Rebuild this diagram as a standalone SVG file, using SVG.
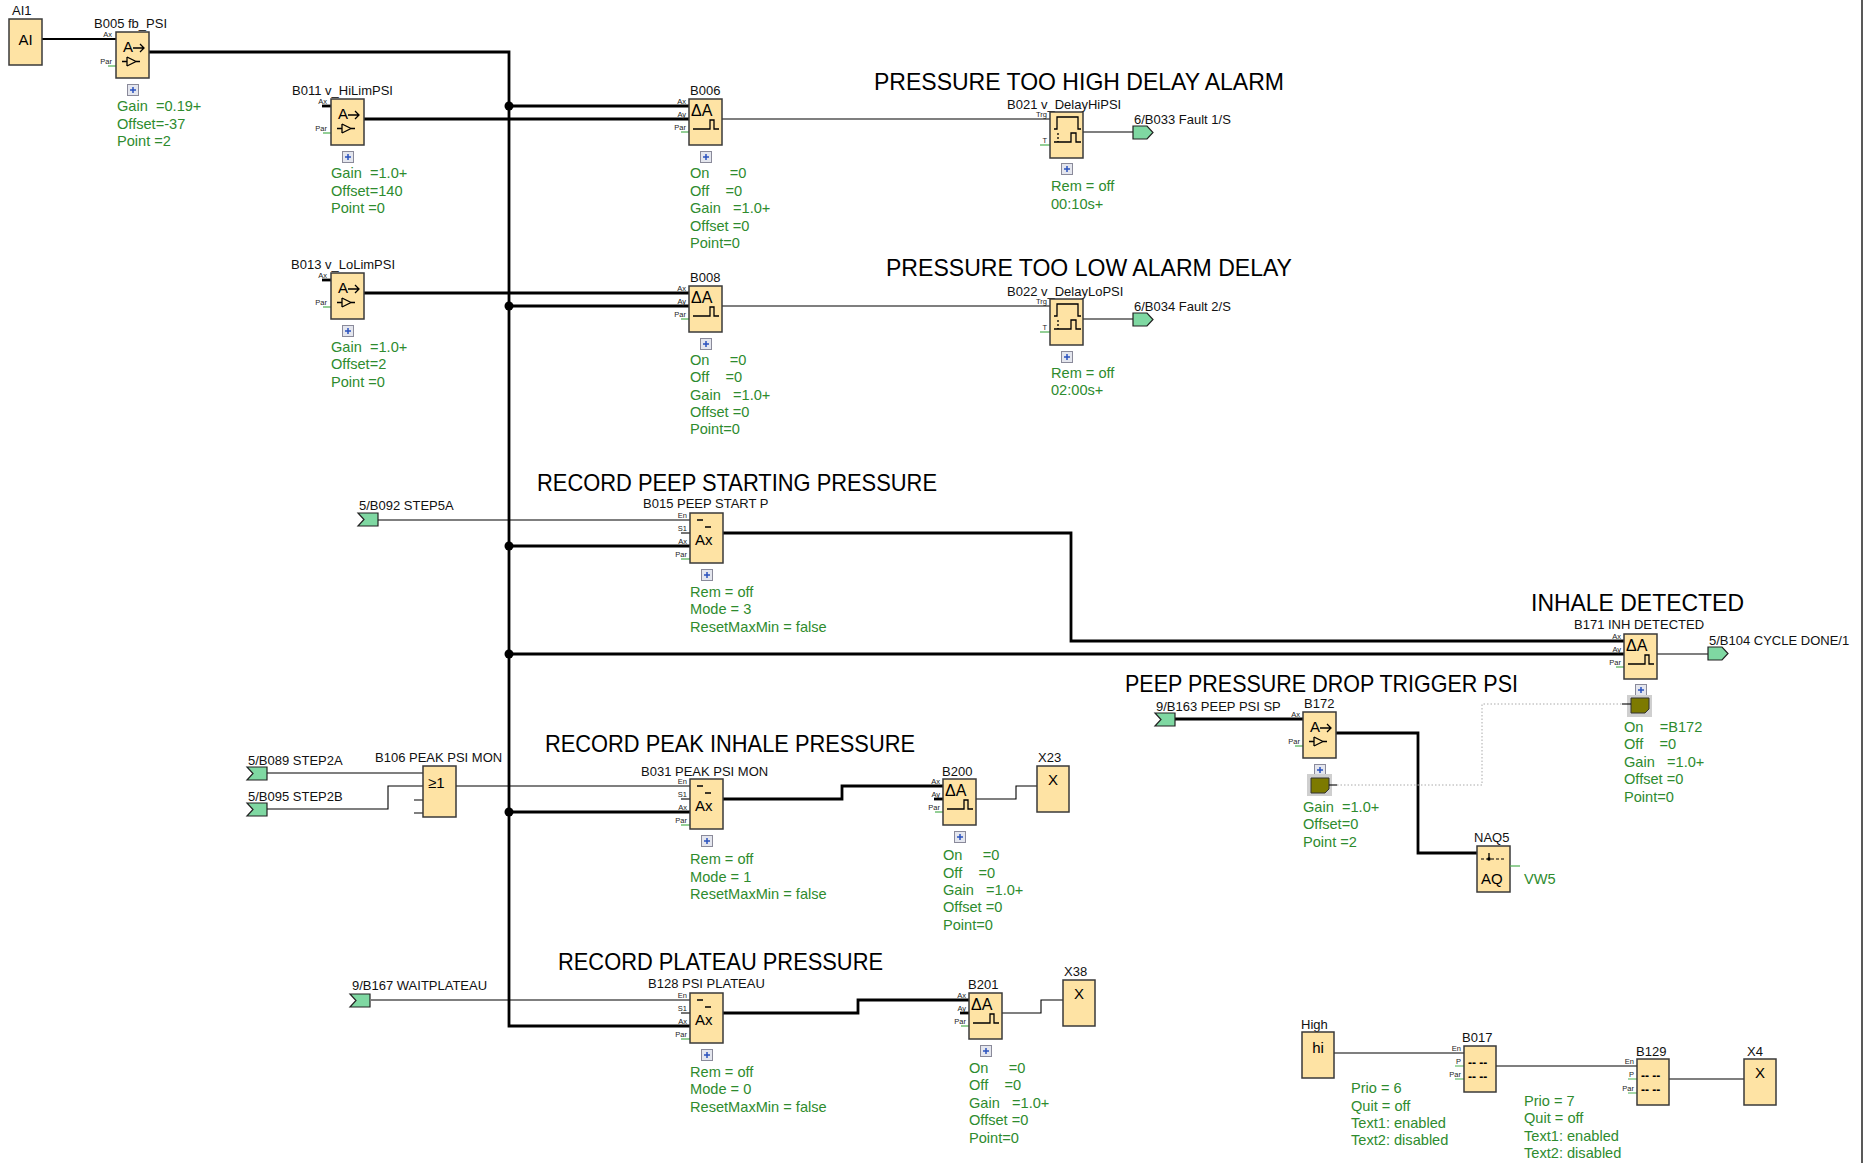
<svg xmlns="http://www.w3.org/2000/svg" xmlns:xlink="http://www.w3.org/1999/xlink" width="1865" height="1163" viewBox="0 0 1865 1163">
<style>
text{font-family:"Liberation Sans",Arial,sans-serif}
.blk{fill:#fee3a4;stroke:#3a3a3a;stroke-width:1.5}
.lbl{font-size:13px;fill:#111}
.par{font-size:14.6px;fill:#2e8b2e}
.pin{font-size:7.5px;fill:#222;text-anchor:end}
.title{font-size:24px;fill:#000}
.ico{font-size:15px;fill:#000}
.tri{font-size:16px;fill:#000}
.thick{stroke:#000;stroke-width:2.8;fill:none}
.mid{stroke:#000;stroke-width:2;fill:none}
.thin{stroke:#000;stroke-width:1.1;fill:none}
.gst{stroke:#4caf50;stroke-width:1.2;fill:none}
.conn{fill:#7fd8a2;stroke:#222;stroke-width:1.2}
.dot{fill:#000}
.dotted{stroke:#aaa;stroke-width:1;stroke-dasharray:1.5 2;fill:none}
.olive{fill:#7d7a00;stroke:#333;stroke-width:1}
.obg{fill:#cfcfcf}
</style>
<defs>
<g id="plus"><rect x="0.5" y="0.5" width="11" height="11" fill="#e4e6ee" stroke="#8a8a9a"/><path d="M6,3 V9 M3,6 H9" stroke="#2a52be" stroke-width="1.5"/></g>
<path id="ampI" d="M17,16 H28 M24,12 L28,16 L24,20 M6,29.5 H11 M11,25 V34 M11,25 L20,29.5 L11,34 M20,29.5 H24" stroke="#000" stroke-width="1.3" fill="none"/>
<path id="trigI" d="M4,30 H21 V21 H25 V30 H30" stroke="#000" stroke-width="1.3" fill="none"/>
<g id="delayI" stroke="#000" stroke-width="1.3" fill="none"><path d="M4,17 H7 V5 H28 V17 H31 M4,30 H21 V21 H26 V30 H31"/><path d="M8,21 V30" stroke-dasharray="2 2"/></g>
<path id="maxI" d="M7,7 H13 M15,14 H21" stroke="#000" stroke-width="1.3" fill="none"/>
<polygon id="inC" points="0,0 20,0 20,13 0,13 6,6.5"/>
<polygon id="outC" points="0,0 14,0 20,6.5 14,13 0,13"/>
<path id="oliveI" d="M0,0 H18 V11 L14,15 H0 Z"/>
</defs>
<rect width="1865" height="1163" fill="#fff"/>
<line x1="1862" y1="0" x2="1862" y2="1163" stroke="#222" stroke-width="1.5"/>

<g id="titles">
<text class="title" x="874" y="90" textLength="410" lengthAdjust="spacingAndGlyphs">PRESSURE TOO HIGH DELAY ALARM</text>
<text class="title" x="886" y="276" textLength="406" lengthAdjust="spacingAndGlyphs">PRESSURE TOO LOW ALARM DELAY</text>
<text class="title" x="537" y="491" textLength="400" lengthAdjust="spacingAndGlyphs">RECORD PEEP STARTING PRESSURE</text>
<text class="title" x="545" y="752" textLength="370" lengthAdjust="spacingAndGlyphs">RECORD PEAK INHALE PRESSURE</text>
<text class="title" x="1531" y="611" textLength="213" lengthAdjust="spacingAndGlyphs">INHALE DETECTED</text>
<text class="title" x="1125" y="692" textLength="393" lengthAdjust="spacingAndGlyphs">PEEP PRESSURE DROP TRIGGER PSI</text>
<text class="title" x="558" y="970" textLength="325" lengthAdjust="spacingAndGlyphs">RECORD PLATEAU PRESSURE</text>
</g>

<g id="connectors">
<path class="mid" d="M42,39 H116"/>
<path class="thick" d="M149,52 H509 V1026 H690"/>
<path class="thick" d="M509,106 H689"/>
<path class="thick" d="M364,119 H689"/>
<path class="thick" d="M364,293 H689"/>
<path class="thick" d="M509,306 H689"/>
<path class="thick" d="M509,546 H690"/>
<path class="thick" d="M723,533 H1071 V641 H1624"/>
<path class="thick" d="M509,654 H1624"/>
<path class="thick" d="M509,812 H690"/>
<path class="thick" d="M723,799 H842 V786 H943"/>
<path class="thick" d="M723,1013 H858 V1000 H969"/>
<path class="thick" d="M1175,719 H1303"/>
<path class="thick" d="M1336,733 H1418 V853 H1477"/>
<path class="thin" d="M722,119 H1050"/>
<path class="thin" d="M1083,132 H1133"/>
<path class="thin" d="M722,306 H1050"/>
<path class="thin" d="M1083,319 H1133"/>
<path class="thin" d="M378,520 H690"/>
<path class="thin" d="M267,773 H423"/>
<path class="thin" d="M267,809 H388 V786 H423"/>
<path class="thin" d="M456,786 H690"/>
<path class="thin" d="M976,799 H1016 V786 H1037"/>
<path class="thin" d="M1002,1013 H1041 V1000 H1063"/>
<path class="thin" d="M371,1000 H690"/>
<path class="thin" d="M1657,654 H1708"/>
<path class="thin" d="M1334,1053 H1464"/>
<path class="thin" d="M1496,1066 H1637"/>
<path class="thin" d="M1669,1079 H1744"/>
<path class="dotted" d="M1337,785 H1482 V704 H1622"/>
<circle class="dot" cx="509" cy="106" r="4.5"/>
<circle class="dot" cx="509" cy="306" r="4.5"/>
<circle class="dot" cx="509" cy="546" r="4.5"/>
<circle class="dot" cx="509" cy="654" r="4.5"/>
<circle class="dot" cx="509" cy="812" r="4.5"/>
</g>

<g id="AI1">
<text class="lbl" x="12" y="15">AI1</text>
<rect class="blk" x="9" y="19" width="33" height="46"/>
<text class="ico" x="25.5" y="45" text-anchor="middle" font-size="17">AI</text>
</g>

<g id="B005">
<text class="lbl" x="94" y="28">B005 fb_PSI</text>
<text class="pin" x="112" y="37">Ax</text><text class="pin" x="112" y="64">Par</text>
<path class="gst" d="M108,66 H116"/>
<rect class="blk" x="116" y="32" width="33" height="46"/>
<text class="ico" x="123" y="52">A</text><use href="#ampI" x="116" y="32"/>
<use href="#plus" x="127" y="84"/>
<text class="par" xml:space="preserve" x="117" y="111">Gain  =0.19+</text>
<text class="par" xml:space="preserve" x="117" y="129">Offset=-37</text>
<text class="par" xml:space="preserve" x="117" y="146">Point =2</text>
</g>

<g id="B011">
<text class="lbl" x="292" y="95">B011 v_HiLimPSI</text>
<text class="pin" x="327" y="104">Ax</text><text class="pin" x="327" y="131">Par</text>
<path class="thick" d="M322,106 H331"/><path class="gst" d="M323,133 H331"/>
<rect class="blk" x="331" y="99" width="33" height="46"/>
<text class="ico" x="338" y="119">A</text><use href="#ampI" x="331" y="99"/>
<use href="#plus" x="342" y="151"/>
<text class="par" xml:space="preserve" x="331" y="178">Gain  =1.0+</text>
<text class="par" xml:space="preserve" x="331" y="196">Offset=140</text>
<text class="par" xml:space="preserve" x="331" y="213">Point =0</text>
</g>

<g id="B013">
<text class="lbl" x="291" y="269">B013 v_LoLimPSI</text>
<text class="pin" x="327" y="278">Ax</text><text class="pin" x="327" y="305">Par</text>
<path class="thick" d="M322,280 H331"/><path class="gst" d="M323,307 H331"/>
<rect class="blk" x="331" y="273" width="33" height="46"/>
<text class="ico" x="338" y="293">A</text><use href="#ampI" x="331" y="273"/>
<use href="#plus" x="342" y="325"/>
<text class="par" xml:space="preserve" x="331" y="352">Gain  =1.0+</text>
<text class="par" xml:space="preserve" x="331" y="369">Offset=2</text>
<text class="par" xml:space="preserve" x="331" y="387">Point =0</text>
</g>

<g id="B006">
<text class="lbl" x="690" y="95">B006</text>
<text class="pin" x="686" y="104">Ax</text><text class="pin" x="686" y="117">Ay</text><text class="pin" x="686" y="130">Par</text>
<path class="gst" d="M681,132 H689"/>
<rect class="blk" x="689" y="99" width="33" height="46"/>
<text class="tri" x="691" y="116">ΔA</text><use href="#trigI" x="689" y="99"/>
<use href="#plus" x="700" y="151"/>
<text class="par" xml:space="preserve" x="690" y="178">On     =0</text>
<text class="par" xml:space="preserve" x="690" y="196">Off    =0</text>
<text class="par" xml:space="preserve" x="690" y="213">Gain   =1.0+</text>
<text class="par" xml:space="preserve" x="690" y="231">Offset =0</text>
<text class="par" xml:space="preserve" x="690" y="248">Point=0</text>
</g>

<g id="B008">
<text class="lbl" x="690" y="282">B008</text>
<text class="pin" x="686" y="291">Ax</text><text class="pin" x="686" y="304">Ay</text><text class="pin" x="686" y="317">Par</text>
<path class="gst" d="M681,319 H689"/>
<rect class="blk" x="689" y="286" width="33" height="46"/>
<text class="tri" x="691" y="303">ΔA</text><use href="#trigI" x="689" y="286"/>
<use href="#plus" x="700" y="338"/>
<text class="par" xml:space="preserve" x="690" y="365">On     =0</text>
<text class="par" xml:space="preserve" x="690" y="382">Off    =0</text>
<text class="par" xml:space="preserve" x="690" y="400">Gain   =1.0+</text>
<text class="par" xml:space="preserve" x="690" y="417">Offset =0</text>
<text class="par" xml:space="preserve" x="690" y="434">Point=0</text>
</g>

<g id="B021">
<text class="lbl" x="1007" y="109">B021 v_DelayHiPSI</text>
<text class="pin" x="1047" y="117">Trg</text><text class="pin" x="1047" y="143">T</text>
<path class="gst" d="M1040,145 H1050"/>
<rect class="blk" x="1050" y="112" width="33" height="46"/>
<use href="#delayI" x="1050" y="112"/>
<use href="#plus" x="1061" y="163"/>
<text class="par" xml:space="preserve" x="1051" y="191">Rem = off</text>
<text class="par" xml:space="preserve" x="1051" y="209">00:10s+</text>
</g>

<g id="B033">
<use href="#outC" class="conn" x="1133" y="126"/>
<text class="lbl" x="1134" y="124">6/B033 Fault 1/S</text>
</g>

<g id="B022">
<text class="lbl" x="1007" y="296">B022 v_DelayLoPSI</text>
<text class="pin" x="1047" y="304">Trg</text><text class="pin" x="1047" y="330">T</text>
<path class="gst" d="M1040,332 H1050"/>
<rect class="blk" x="1050" y="299" width="33" height="46"/>
<use href="#delayI" x="1050" y="299"/>
<use href="#plus" x="1061" y="351"/>
<text class="par" xml:space="preserve" x="1051" y="378">Rem = off</text>
<text class="par" xml:space="preserve" x="1051" y="395">02:00s+</text>
</g>

<g id="B034">
<use href="#outC" class="conn" x="1133" y="313"/>
<text class="lbl" x="1134" y="311">6/B034 Fault 2/S</text>
</g>

<g id="B092">
<use href="#inC" class="conn" x="358" y="513"/>
<text class="lbl" x="359" y="510">5/B092 STEP5A</text>
</g>

<g id="B015">
<text class="lbl" x="643" y="508">B015 PEEP START P</text>
<text class="pin" x="687" y="518">En</text><text class="pin" x="687" y="531">S1</text><text class="pin" x="687" y="544">Ax</text><text class="pin" x="687" y="557">Par</text>
<path class="thin" d="M681,533 H690"/><path class="gst" d="M681,559 H690"/>
<rect class="blk" x="690" y="513" width="33" height="50"/>
<use href="#maxI" x="690" y="513"/>
<text class="ico" x="695" y="545" font-size="16">Ax</text>
<use href="#plus" x="701" y="569"/>
<text class="par" xml:space="preserve" x="690" y="597">Rem = off</text>
<text class="par" xml:space="preserve" x="690" y="614">Mode = 3</text>
<text class="par" xml:space="preserve" x="690" y="632">ResetMaxMin = false</text>
</g>

<g id="B171">
<text class="lbl" x="1574" y="629">B171 INH DETECTED</text>
<text class="pin" x="1621" y="639">Ax</text><text class="pin" x="1621" y="652">Ay</text><text class="pin" x="1621" y="665">Par</text>
<path class="gst" d="M1616,667 H1624"/>
<rect class="blk" x="1624" y="634" width="33" height="45"/>
<text class="tri" x="1626" y="651">ΔA</text><use href="#trigI" x="1624" y="634"/>
<use href="#plus" x="1635" y="684"/>
<rect class="obg" x="1627" y="695" width="25" height="22"/>
<use href="#oliveI" class="olive" x="1631" y="698"/>
<path class="thin" d="M1622,704 H1631"/>
<text class="par" xml:space="preserve" x="1624" y="732">On    =B172</text>
<text class="par" xml:space="preserve" x="1624" y="749">Off    =0</text>
<text class="par" xml:space="preserve" x="1624" y="767">Gain   =1.0+</text>
<text class="par" xml:space="preserve" x="1624" y="784">Offset =0</text>
<text class="par" xml:space="preserve" x="1624" y="802">Point=0</text>
</g>

<g id="B104">
<use href="#outC" class="conn" x="1708" y="647"/>
<text class="lbl" x="1709" y="645">5/B104 CYCLE DONE/1</text>
</g>

<g id="B163">
<use href="#inC" class="conn" x="1155" y="713"/>
<text class="lbl" x="1156" y="711">9/B163 PEEP PSI SP</text>
</g>

<g id="B172">
<text class="lbl" x="1304" y="708">B172</text>
<text class="pin" x="1300" y="717">Ax</text><text class="pin" x="1300" y="744">Par</text>
<path class="gst" d="M1295,746 H1303"/>
<rect class="blk" x="1303" y="712" width="33" height="46"/>
<text class="ico" x="1310" y="732">A</text><use href="#ampI" x="1303" y="712"/>
<use href="#plus" x="1314" y="764"/>
<rect class="obg" x="1307" y="774" width="25" height="22"/>
<use href="#oliveI" class="olive" x="1311" y="778"/>
<path class="thin" d="M1329,785 H1337"/>
<text class="par" xml:space="preserve" x="1303" y="812">Gain  =1.0+</text>
<text class="par" xml:space="preserve" x="1303" y="829">Offset=0</text>
<text class="par" xml:space="preserve" x="1303" y="847">Point =2</text>
</g>

<g id="NAQ5">
<text class="lbl" x="1474" y="842">NAQ5</text>
<rect class="blk" x="1477" y="846" width="33" height="46"/>
<path d="M1481,859 H1506" stroke="#000" stroke-width="1.2" stroke-dasharray="3 2"/>
<path d="M1489,853 V859" stroke="#000" stroke-width="1.3"/><circle cx="1489" cy="859" r="1.8"/>
<text class="ico" x="1481" y="884" font-size="16">AQ</text>
<path class="gst" d="M1510,866 H1520"/>
<text class="par" x="1524" y="884">VW5</text>
</g>

<g id="B089">
<use href="#inC" class="conn" x="247" y="767"/>
<text class="lbl" x="248" y="765">5/B089 STEP2A</text>
</g>

<g id="B095">
<use href="#inC" class="conn" x="247" y="803"/>
<text class="lbl" x="248" y="801">5/B095 STEP2B</text>
</g>

<g id="B106">
<text class="lbl" x="375" y="762">B106 PEAK PSI MON</text>
<path class="thin" d="M414,800 H423 M414,813 H423"/>
<rect class="blk" x="423" y="766" width="33" height="51"/>
<text class="ico" x="428" y="788" font-size="17">≥1</text>
</g>

<g id="B031">
<text class="lbl" x="641" y="776">B031 PEAK PSI MON</text>
<text class="pin" x="687" y="784">En</text><text class="pin" x="687" y="797">S1</text><text class="pin" x="687" y="810">Ax</text><text class="pin" x="687" y="823">Par</text>
<path class="thin" d="M681,799 H690"/><path class="gst" d="M681,825 H690"/>
<rect class="blk" x="690" y="779" width="33" height="50"/>
<use href="#maxI" x="690" y="779"/>
<text class="ico" x="695" y="811" font-size="16">Ax</text>
<use href="#plus" x="701" y="835"/>
<text class="par" xml:space="preserve" x="690" y="864">Rem = off</text>
<text class="par" xml:space="preserve" x="690" y="882">Mode = 1</text>
<text class="par" xml:space="preserve" x="690" y="899">ResetMaxMin = false</text>
</g>

<g id="B200">
<text class="lbl" x="942" y="776">B200</text>
<text class="pin" x="940" y="784">Ax</text><text class="pin" x="940" y="797">Ay</text><text class="pin" x="940" y="810">Par</text>
<path class="thick" d="M934,799 H943"/><path class="gst" d="M935,812 H943"/>
<rect class="blk" x="943" y="779" width="33" height="46"/>
<text class="tri" x="945" y="796">ΔA</text><use href="#trigI" x="943" y="779"/>
<use href="#plus" x="954" y="831"/>
<text class="par" xml:space="preserve" x="943" y="860">On     =0</text>
<text class="par" xml:space="preserve" x="943" y="878">Off    =0</text>
<text class="par" xml:space="preserve" x="943" y="895">Gain   =1.0+</text>
<text class="par" xml:space="preserve" x="943" y="912">Offset =0</text>
<text class="par" xml:space="preserve" x="943" y="930">Point=0</text>
</g>

<g id="X23">
<text class="lbl" x="1038" y="762">X23</text>
<rect class="blk" x="1037" y="766" width="32" height="46"/>
<text class="ico" x="1053" y="785" text-anchor="middle" font-size="16">X</text>
</g>

<g id="B167">
<use href="#inC" class="conn" x="350" y="994"/>
<text class="lbl" x="352" y="990">9/B167 WAITPLATEAU</text>
</g>

<g id="B128">
<text class="lbl" x="648" y="988">B128 PSI PLATEAU</text>
<text class="pin" x="687" y="998">En</text><text class="pin" x="687" y="1011">S1</text><text class="pin" x="687" y="1024">Ax</text><text class="pin" x="687" y="1037">Par</text>
<path class="thin" d="M681,1013 H690"/><path class="gst" d="M681,1039 H690"/>
<rect class="blk" x="690" y="993" width="33" height="50"/>
<use href="#maxI" x="690" y="993"/>
<text class="ico" x="695" y="1025" font-size="16">Ax</text>
<use href="#plus" x="701" y="1049"/>
<text class="par" xml:space="preserve" x="690" y="1077">Rem = off</text>
<text class="par" xml:space="preserve" x="690" y="1094">Mode = 0</text>
<text class="par" xml:space="preserve" x="690" y="1112">ResetMaxMin = false</text>
</g>

<g id="B201">
<text class="lbl" x="968" y="989">B201</text>
<text class="pin" x="966" y="998">Ax</text><text class="pin" x="966" y="1011">Ay</text><text class="pin" x="966" y="1024">Par</text>
<path class="thick" d="M960,1013 H969"/><path class="gst" d="M961,1026 H969"/>
<rect class="blk" x="969" y="993" width="33" height="46"/>
<text class="tri" x="971" y="1010">ΔA</text><use href="#trigI" x="969" y="993"/>
<use href="#plus" x="980" y="1045"/>
<text class="par" xml:space="preserve" x="969" y="1073">On     =0</text>
<text class="par" xml:space="preserve" x="969" y="1090">Off    =0</text>
<text class="par" xml:space="preserve" x="969" y="1108">Gain   =1.0+</text>
<text class="par" xml:space="preserve" x="969" y="1125">Offset =0</text>
<text class="par" xml:space="preserve" x="969" y="1143">Point=0</text>
</g>

<g id="X38">
<text class="lbl" x="1064" y="976">X38</text>
<rect class="blk" x="1063" y="980" width="32" height="46"/>
<text class="ico" x="1079" y="999" text-anchor="middle" font-size="16">X</text>
</g>

<g id="High">
<text class="lbl" x="1301" y="1029">High</text>
<rect class="blk" x="1302" y="1032" width="32" height="46"/>
<text class="ico" x="1318" y="1053" text-anchor="middle" font-size="16">hi</text>
<text class="par" xml:space="preserve" x="1351" y="1093">Prio = 6</text>
<text class="par" xml:space="preserve" x="1351" y="1111">Quit = off</text>
<text class="par" xml:space="preserve" x="1351" y="1128">Text1: enabled</text>
<text class="par" xml:space="preserve" x="1351" y="1145">Text2: disabled</text>
</g>

<g id="B017">
<text class="lbl" x="1462" y="1042">B017</text>
<text class="pin" x="1461" y="1051">En</text><text class="pin" x="1461" y="1064">P</text><text class="pin" x="1461" y="1077">Par</text>
<path class="gst" d="M1455,1066 H1464 M1455,1079 H1464"/>
<rect class="blk" x="1464" y="1046" width="32" height="46"/>
<text x="1468" y="1067" font-size="12" font-weight="bold">-- --</text>
<text x="1468" y="1081" font-size="12" font-weight="bold">-- --</text>
</g>

<g id="B129">
<text class="lbl" x="1636" y="1056">B129</text>
<text class="pin" x="1634" y="1064">En</text><text class="pin" x="1634" y="1077">P</text><text class="pin" x="1634" y="1091">Par</text>
<path class="gst" d="M1628,1079 H1637 M1628,1093 H1637"/>
<rect class="blk" x="1637" y="1059" width="32" height="46"/>
<text x="1641" y="1080" font-size="12" font-weight="bold">-- --</text>
<text x="1641" y="1094" font-size="12" font-weight="bold">-- --</text>
<text class="par" xml:space="preserve" x="1524" y="1106">Prio = 7</text>
<text class="par" xml:space="preserve" x="1524" y="1123">Quit = off</text>
<text class="par" xml:space="preserve" x="1524" y="1141">Text1: enabled</text>
<text class="par" xml:space="preserve" x="1524" y="1158">Text2: disabled</text>
</g>

<g id="X4">
<text class="lbl" x="1747" y="1056">X4</text>
<rect class="blk" x="1744" y="1059" width="32" height="46"/>
<text class="ico" x="1760" y="1078" text-anchor="middle" font-size="16">X</text>
</g>
</svg>
